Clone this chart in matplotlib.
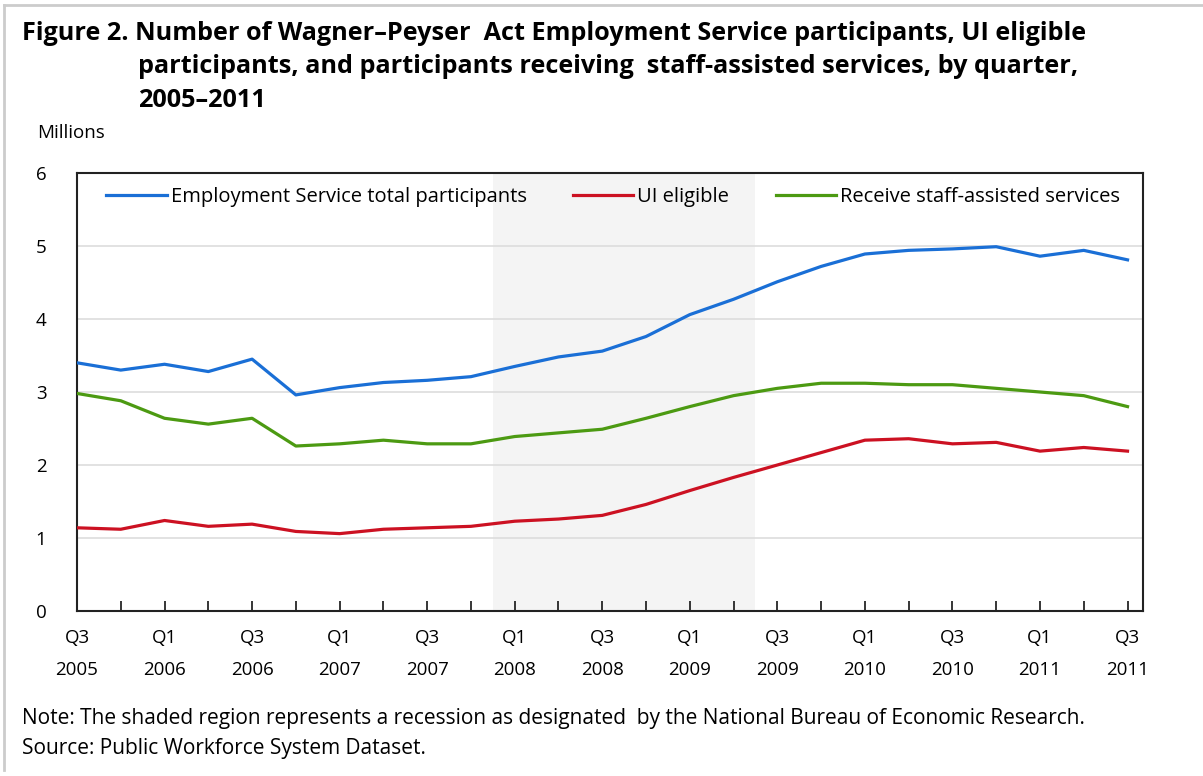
import matplotlib

matplotlib.use("Agg")
import matplotlib.pyplot as plt
from matplotlib.lines import Line2D

plt.rcParams["font.family"] = ["Open Sans", "DejaVu Sans"]

quarters = [
    "Q3\n2005", "Q4\n2005", "Q1\n2006", "Q2\n2006", "Q3\n2006", "Q4\n2006",
    "Q1\n2007", "Q2\n2007", "Q3\n2007", "Q4\n2007", "Q1\n2008", "Q2\n2008",
    "Q3\n2008", "Q4\n2008", "Q1\n2009", "Q2\n2009", "Q3\n2009", "Q4\n2009",
    "Q1\n2010", "Q2\n2010", "Q3\n2010", "Q4\n2010", "Q1\n2011", "Q2\n2011",
    "Q3\n2011",
]
total_participants = [
    3.40, 3.30, 3.38, 3.28, 3.45, 2.96, 3.06, 3.13, 3.16, 3.21, 3.35, 3.48,
    3.56, 3.76, 4.06, 4.27, 4.51, 4.72, 4.89, 4.94, 4.96, 4.99, 4.86, 4.94,
    4.81,
]
ui_eligible = [
    1.14, 1.12, 1.24, 1.16, 1.19, 1.09, 1.06, 1.12, 1.14, 1.16, 1.23, 1.26,
    1.31, 1.46, 1.65, 1.83, 2.00, 2.17, 2.34, 2.36, 2.29, 2.31, 2.19, 2.24,
    2.19,
]
staff_assisted = [
    2.98, 2.88, 2.64, 2.56, 2.64, 2.26, 2.29, 2.34, 2.29, 2.29, 2.39, 2.44,
    2.49, 2.64, 2.80, 2.95, 3.05, 3.12, 3.12, 3.10, 3.10, 3.05, 3.00, 2.95,
    2.80,
]
recession_start = 9.5
recession_end = 15.5

blue = "#1a6fd6"
red = "#cc1122"
green = "#4c9a12"

fig = plt.figure(figsize=(12.03, 7.76), dpi=100)
ax = fig.add_axes([0.064, 0.2126, 0.886, 0.5645])

positions = list(range(len(quarters)))
ax.axvspan(recession_start, recession_end, color="#f4f4f4", zorder=0, lw=0)
ax.plot(positions, total_participants, color=blue, lw=2.3, zorder=3)
ax.plot(positions, ui_eligible, color=red, lw=2.3, zorder=3)
ax.plot(positions, staff_assisted, color=green, lw=2.3, zorder=3)

ax.set_xlim(0, len(quarters) - 1 + 0.35)
ax.set_ylim(0, 6)
ax.set_yticks(range(0, 7))
ax.yaxis.grid(True, color="#dddddd", lw=1.2, zorder=1)
ax.set_axisbelow(True)
ax.tick_params(axis="y", length=0, labelsize=13.5, pad=22)

ax.set_xticks(positions)
ax.set_xticklabels([q if i % 2 == 0 else "" for i, q in enumerate(quarters)],
                   linespacing=2.0)
ax.tick_params(axis="x", direction="in", length=7, width=1.1, color="black",
               labelsize=13.5, pad=13)
for spine in ax.spines.values():
    spine.set_linewidth(1.5)
    spine.set_color("#222222")

handles = [
    Line2D([], [], color=blue, lw=2.3),
    Line2D([], [], color=red, lw=2.3),
    Line2D([], [], color=green, lw=2.3),
]
ax.legend(handles, ["Employment Service total participants", "UI eligible",
                    "Receive staff-assisted services"],
          ncol=3, frameon=False, loc="upper center", bbox_to_anchor=(0.503, 1.01),
          fontsize=14.5, handlelength=3.0, handletextpad=0.2,
          columnspacing=2.3)

fig.text(0.031, 0.828, "Millions", fontsize=13.5, ha="left", va="center")

fig.text(0.018, 0.957, "Figure 2. Number of Wagner\u2013Peyser  Act Employment Service participants, UI eligible",
         fontsize=18.2, fontweight="bold", ha="left", va="center")
fig.text(0.1145, 0.914, "participants, and participants receiving  staff-assisted services, by quarter,",
         fontsize=18.2, fontweight="bold", ha="left", va="center")
fig.text(0.1145, 0.871, "2005\u20132011",
         fontsize=18.2, fontweight="bold", ha="left", va="center")

fig.text(0.018, 0.074, "Note: The shaded region represents a recession as designated  by the National Bureau of Economic Research.",
         fontsize=15, ha="left", va="center")
fig.text(0.018, 0.036, "Source: Public Workforce System Dataset.",
         fontsize=15, ha="left", va="center")

fig.add_artist(Line2D([0.003, 1.0], [0.993, 0.993], color="#cccccc", lw=2))
fig.add_artist(Line2D([0.003, 0.003], [0.993, 0.008], color="#cccccc", lw=2))

fig.savefig("out.png", dpi=100)
